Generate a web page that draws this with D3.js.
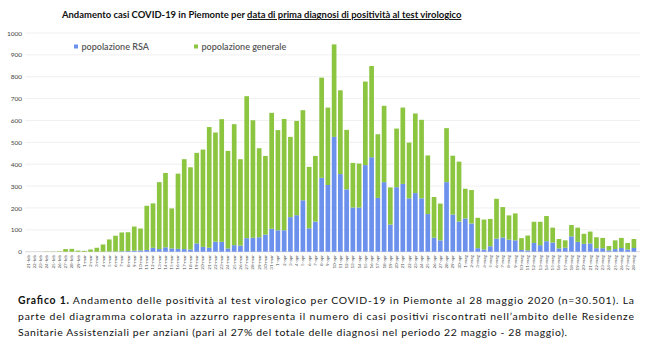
<!DOCTYPE html>
<html>
<head>
<meta charset="utf-8">
<script src="https://cdn.jsdelivr.net/npm/d3@7"></script>
<style>
  body { margin: 0; background: #fff; }
  svg { display: block; font-family: Lato, "Noto Sans", sans-serif; }
</style>
</head>
<body>
<svg width="650" height="352"></svg>
<script>
// Casi per data di prima diagnosi, 21 feb - 28 mag 2020
const mesi = ['gen', 'feb', 'mar', 'apr', 'mag'];
const giorni = d3.timeDays(new Date(2020, 1, 21), new Date(2020, 4, 29));
const dateLabels = giorni.map(d => d.getDate() + '-' + mesi[d.getMonth()]);

// popolazione RSA (parte azzurra)
const rsa = [
  0, 0, 0, 0, 0, 0, 0, 0, 0, 0,
  0, 0, 0, 1, 1, 2, 3, 5, 6, 8,
  18, 12, 20, 15, 13, 12, 10, 38, 22, 18,
  46, 45, 15, 30, 28, 62, 64, 66, 78, 105,
  98, 98, 158, 167, 235, 107, 138, 338, 305, 525,
  355, 285, 202, 202, 396, 432, 246, 318, 124, 295,
  310, 244, 268, 244, 172, 64, 52, 318, 170, 138,
  152, 129, 16, 10, 25, 60, 65, 55, 52, 8,
  6, 40, 30, 48, 42, 15, 18, 70, 45, 36,
  38, 16, 16, 6, 12, 17, 10, 17
];

// popolazione generale (parte verde)
const generale = [
  0, 0, 0, 1, 1, 2, 12, 13, 5, 4,
  10, 18, 33, 55, 72, 86, 86, 110, 100, 202,
  203, 306, 340, 183, 344, 411, 376, 414, 445, 552,
  499, 561, 446, 553, 395, 649, 537, 407, 360, 530,
  458, 509, 367, 431, 412, 281, 300, 458, 354, 423,
  383, 272, 204, 201, 382, 417, 291, 349, 170, 268,
  349, 255, 364, 359, 268, 186, 168, 247, 269, 274,
  136, 153, 139, 137, 125, 182, 139, 111, 123, 54,
  68, 97, 107, 115, 68, 43, 34, 52, 65, 46,
  54, 50, 47, 20, 40, 46, 30, 41
];

const yTicks = [0, 100, 200, 300, 400, 500, 600, 700, 800, 900, 1000];
const serie = ['popolazione RSA', 'popolazione generale'];
const colori = ['#6b91ec', '#8cc540'];

const titolo1 = 'Andamento casi COVID-19 in Piemonte per ';
const titolo2 = 'data di prima diagnosi di positività al test virologico';
const didascalia = [
  'parte del diagramma colorata in azzurro rappresenta il numero di casi positivi riscontrati nell\u2019ambito delle Residenze',
  'Sanitarie Assistenziali per anziani (pari al 27% del totale delle diagnosi nel periodo 22 maggio - 28 maggio).'
];

const svg = d3.select('svg');

const rows = dateLabels.map((d, i) => ({ data: d, rsa: rsa[i], generale: generale[i] }));
const stack = d3.stack().keys(['rsa', 'generale'])(rows);

const x = d3.scaleBand().domain(dateLabels).range([25, 637]).paddingInner(0.25).paddingOuter(0.12);
const y = d3.scaleLinear().domain([0, 1000]).range([251.7, 33]);

// griglia
svg.append('g')
  .selectAll('line')
  .data(yTicks)
  .join('line')
  .attr('x1', 25).attr('x2', 640)
  .attr('y1', d => y(d)).attr('y2', d => y(d))
  .attr('stroke', d => d === 0 ? '#d0d0d0' : '#ececec')
  .attr('stroke-width', 0.8);

// asse y
const yAxis = svg.append('g')
  .attr('transform', 'translate(22,0)')
  .call(d3.axisLeft(y).tickValues(yTicks).tickFormat(d3.format('d')).tickSize(0).tickPadding(0));
yAxis.select('.domain').remove();
yAxis.selectAll('text')
  .attr('font-size', 6.5)
  .attr('fill', '#444')
  .attr('font-family', 'Lato, sans-serif');

// barre
svg.append('g')
  .selectAll('g')
  .data(stack)
  .join('g')
  .attr('fill', (d, i) => colori[i])
  .selectAll('rect')
  .data(d => d)
  .join('rect')
  .attr('x', d => x(d.data.data))
  .attr('width', x.bandwidth())
  .attr('y', d => y(d[1]))
  .attr('height', d => y(d[0]) - y(d[1]));

// asse x (etichette ruotate)
const xAxis = svg.append('g')
  .attr('transform', 'translate(0,253)')
  .call(d3.axisBottom(x).tickSize(0).tickPadding(0));
xAxis.select('.domain').remove();
xAxis.selectAll('text')
  .attr('font-size', 4.6)
  .attr('fill', '#555')
  .attr('font-family', 'Lato, sans-serif')
  .attr('transform', 'rotate(-90)')
  .attr('text-anchor', 'end')
  .attr('dy', '0.32em')
  .attr('x', -2)
  .attr('y', 0);

// legenda
const leg = svg.append('g');
const legX = [74, 194];
serie.forEach((s, i) => {
  leg.append('rect')
    .attr('x', legX[i]).attr('y', 44.5)
    .attr('width', 4).attr('height', 4)
    .attr('fill', colori[i]);
  leg.append('text')
    .attr('x', legX[i] + 7.5).attr('y', 50)
    .attr('font-size', 9)
    .attr('font-weight', 600)
    .attr('fill', '#555')
    .text(s);
});

// titolo
const title = svg.append('text')
  .attr('x', 62).attr('y', 18)
  .attr('font-weight', 'bold')
  .attr('fill', '#111');
title.append('tspan').text(titolo1);
title.append('tspan').attr('text-decoration', 'underline').text(titolo2);
let fs = 11;
title.attr('font-size', fs);
fs = fs * 400 / title.node().getComputedTextLength();
title.attr('font-size', fs);

// didascalia
const capSize = 10.4;
const l1 = svg.append('text')
  .attr('x', 18).attr('y', 303.5)
  .attr('font-size', capSize)
  .attr('fill', '#111');
l1.append('tspan').attr('font-weight', 'bold').text('Grafico 1.');
l1.append('tspan').text(' Andamento delle positività al test virologico per COVID-19 in Piemonte al 28 maggio 2020 (n=30.501). La');
l1.attr('textLength', 616).attr('lengthAdjust', 'spacing');

svg.append('text')
  .attr('x', 18).attr('y', 319.5)
  .attr('font-size', capSize)
  .attr('fill', '#111')
  .attr('textLength', 616).attr('lengthAdjust', 'spacing')
  .text(didascalia[0]);

const l3 = svg.append('text')
  .attr('x', 18).attr('y', 335.5)
  .attr('font-size', capSize)
  .attr('fill', '#111')
  .text(didascalia[1]);
l3.attr('textLength', 549).attr('lengthAdjust', 'spacing');
</script>
</body>
</html>
